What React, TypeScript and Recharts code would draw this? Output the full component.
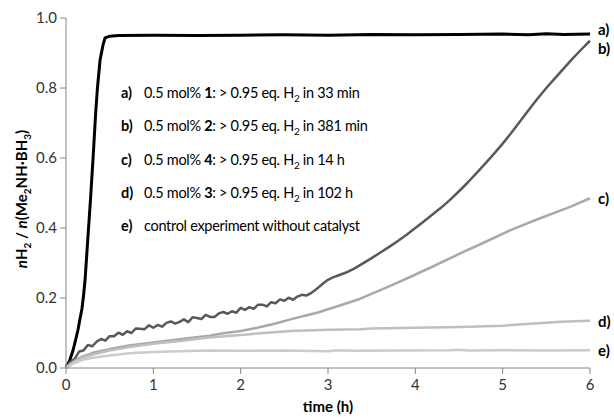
import React from "react";
import { LineChart, Line, XAxis, YAxis, LabelList } from "recharts";

const timeTicks = [0, 1, 2, 3, 4, 5, 6];
const ratioTicks = [0, 0.2, 0.4, 0.6, 0.8, 1.0];

// [time (h), nH2 / n(Me2NH·BH3)]
const curveA: [number, number][] = [
  [0, 0], [0.04, 0.02], [0.08, 0.05], [0.11, 0.08], [0.138, 0.11], [0.16, 0.14], [0.183, 0.17],
  [0.2, 0.205], [0.218, 0.25], [0.25, 0.37], [0.28, 0.48], [0.31, 0.6], [0.34, 0.73],
  [0.36, 0.8], [0.39, 0.88], [0.424, 0.923], [0.447, 0.943], [0.5, 0.948], [0.6, 0.95],
  [1.0, 0.951], [1.5, 0.95], [2.0, 0.951], [2.5, 0.952], [3.0, 0.951], [3.5, 0.953],
  [4.0, 0.952], [4.5, 0.953], [5.0, 0.954], [5.3, 0.952], [5.5, 0.955], [5.7, 0.953], [6.0, 0.954],
];

const curveB: [number, number][] = [
  [0, 0], [0.05, 0.018], [0.1, 0.026], [0.15, 0.047], [0.2, 0.05], [0.25, 0.066], [0.3, 0.062],
  [0.35, 0.075], [0.4, 0.083], [0.45, 0.078], [0.5, 0.091], [0.55, 0.091], [0.6, 0.101],
  [0.65, 0.095], [0.7, 0.105], [0.75, 0.1], [0.8, 0.113], [0.85, 0.112], [0.9, 0.111],
  [0.95, 0.122], [1.0, 0.115], [1.05, 0.123], [1.1, 0.118], [1.15, 0.129], [1.2, 0.133],
  [1.25, 0.127], [1.3, 0.132], [1.35, 0.139], [1.4, 0.131], [1.45, 0.145], [1.5, 0.143],
  [1.55, 0.14], [1.6, 0.152], [1.65, 0.146], [1.7, 0.146], [1.75, 0.156], [1.8, 0.16],
  [1.85, 0.155], [1.9, 0.162], [1.95, 0.158], [2.0, 0.172], [2.05, 0.166], [2.1, 0.174],
  [2.15, 0.169], [2.2, 0.181], [2.25, 0.181], [2.3, 0.176], [2.35, 0.188], [2.4, 0.185],
  [2.45, 0.196], [2.5, 0.192], [2.55, 0.201], [2.6, 0.195], [2.65, 0.204], [2.7, 0.209],
  [2.75, 0.207], [2.8, 0.213], [2.85, 0.222], [2.9, 0.232], [2.95, 0.243], [3.0, 0.252],
  [3.05, 0.258], [3.1, 0.263], [3.2, 0.272], [3.3, 0.284], [3.4, 0.299], [3.5, 0.314], [3.6, 0.33],
  [3.7, 0.346], [3.8, 0.363], [3.9, 0.381], [4.0, 0.4], [4.1, 0.419], [4.2, 0.439],
  [4.3, 0.459], [4.4, 0.481], [4.5, 0.505], [4.6, 0.53], [4.7, 0.557], [4.8, 0.584],
  [4.9, 0.612], [5.0, 0.641], [5.1, 0.672], [5.2, 0.705], [5.3, 0.738], [5.4, 0.77],
  [5.5, 0.8], [5.6, 0.828], [5.7, 0.856], [5.8, 0.884], [5.9, 0.91], [6.0, 0.935],
];

const curveC: [number, number][] = [
  [0, 0], [0.05, 0.012], [0.1, 0.021], [0.2, 0.034], [0.33, 0.045], [0.5, 0.054], [0.72, 0.064],
  [1.0, 0.073], [1.3, 0.082], [1.64, 0.092], [1.8, 0.099], [2.0, 0.106], [2.19, 0.115],
  [2.4, 0.127], [2.57, 0.139], [2.7, 0.147], [2.875, 0.158], [3.0, 0.168], [3.18, 0.182],
  [3.37, 0.198], [3.49, 0.211], [3.7, 0.233], [3.94, 0.26], [4.2, 0.29], [4.52, 0.328],
  [4.8, 0.36], [5.09, 0.394], [5.4, 0.425], [5.78, 0.461], [6.0, 0.485],
];

const curveD: [number, number][] = [
  [0, 0], [0.05, 0.01], [0.1, 0.018], [0.2, 0.03], [0.33, 0.04], [0.5, 0.05], [0.72, 0.06],
  [1.0, 0.069], [1.3, 0.077], [1.64, 0.087], [2.0, 0.094], [2.3, 0.101], [2.57, 0.106],
  [3.0, 0.109], [3.37, 0.111], [3.5, 0.113], [4.0, 0.115], [4.52, 0.117], [5.0, 0.121],
  [5.67, 0.132], [6.0, 0.135],
];

const curveE: [number, number][] = [
  [0, 0], [0.05, 0.008], [0.1, 0.015], [0.2, 0.024], [0.33, 0.03], [0.5, 0.036], [0.72, 0.042],
  [1.0, 0.046], [1.3, 0.048], [1.64, 0.05], [2.0, 0.049], [2.5, 0.05], [3.0, 0.048],
  [3.1, 0.051], [3.3, 0.049], [3.8, 0.05], [4.4, 0.051], [4.5, 0.052], [4.6, 0.05],
  [5.0, 0.051], [5.5, 0.05], [6.0, 0.051],
];

const endTags = ["a)", "b)", "c)", "d)", "e)"];
const endTagShift = [-5, 7, 0, 0, 0];
const lineColors = ["#000000", "#595959", "#a9a9a9", "#bfbfbf", "#cbcbcb"];
const lineWidths = [3, 2.5, 2.5, 2.5, 2.5];

const noteTags = ["a)", "b)", "c)", "d)", "e)"];
const noteCatalysts = ["1", "2", "4", "3"];
const noteTimes = ["33 min", "381 min", "14 h", "102 h"];
const noteControl = "control experiment without catalyst";

const FONT = "Lato, 'Open Sans', sans-serif";
const AXIS = "#868686";

const series = [curveA, curveB, curveC, curveD, curveE].map((c) => c.map(([t, v]) => ({ t, v })));

function endLabel(idx: number, last: number) {
  return (props: any) => {
    if (props.index !== last) return null;
    return (
      <text
        x={Number(props.x) + 8}
        y={Number(props.y) + endTagShift[idx]}
        dominantBaseline="central"
        fontFamily={FONT}
        fontWeight="bold"
        fontSize={15}
        fill="#000"
      >
        {endTags[idx]}
      </text>
    );
  };
}

export default function App() {
  return (
    <div style={{ position: "absolute", left: 0, top: 0, width: 614, height: 418, background: "#fff" }}>
      <LineChart width={614} height={418} margin={{ top: 18, right: 24, bottom: 20, left: 16 }}>
        <XAxis
          dataKey="t"
          type="number"
          domain={[0, 6]}
          ticks={timeTicks}
          allowDuplicatedCategory={false}
          height={30}
          stroke={AXIS}
          tickSize={6}
          tickMargin={5}
          tick={{ fontFamily: FONT, fontSize: 15, fill: "#333" }}
        />
        <YAxis
          type="number"
          domain={[0, 1]}
          ticks={ratioTicks}
          width={50}
          stroke={AXIS}
          tickSize={6}
          tickMargin={3}
          tickFormatter={(v: number) => v.toFixed(1)}
          tick={{ fontFamily: FONT, fontSize: 15, fill: "#333" }}
        />
        {series.map((d, i) => (
          <Line
            key={i}
            data={d}
            dataKey="v"
            type="linear"
            stroke={lineColors[i]}
            strokeWidth={lineWidths[i]}
            dot={false}
            isAnimationActive={false}
            strokeLinejoin="round"
          >
            <LabelList dataKey="v" content={endLabel(i, d.length - 1)} />
          </Line>
        ))}
      </LineChart>

      <div
        style={{
          position: "absolute",
          left: 22,
          top: 199,
          transform: "translate(-50%, -50%) rotate(-90deg)",
          whiteSpace: "nowrap",
          fontFamily: FONT,
          fontWeight: "bold",
          fontSize: 15,
          color: "#000",
        }}
      >
        <i>n</i>H<sub style={{ fontSize: 10 }}>2</sub> / <i>n</i>(Me<sub style={{ fontSize: 10 }}>2</sub>NH·BH
        <sub style={{ fontSize: 10 }}>3</sub>)
      </div>

      <div
        style={{
          position: "absolute",
          left: 328,
          top: 406,
          transform: "translate(-50%, -50%)",
          whiteSpace: "nowrap",
          fontFamily: FONT,
          fontWeight: "bold",
          fontSize: 15,
          color: "#000",
        }}
      >
        time (h)
      </div>

      {noteTags.map((tag, i) => (
        <div
          key={tag}
          style={{
            position: "absolute",
            left: 121,
            top: 83 + i * 33.3,
            whiteSpace: "nowrap",
            fontFamily: FONT,
            fontSize: 14.5,
            letterSpacing: -0.3,
            lineHeight: "20px",
            color: "#000",
          }}
        >
          <b style={{ display: "inline-block", width: 23, letterSpacing: 0 }}>{tag}</b>
          {i < 4 ? (
            <span>
              0.5 mol% <b>{noteCatalysts[i]}</b>: &gt; 0.95 eq. H<sub style={{ fontSize: 10, lineHeight: 0 }}>2</sub> in{" "}
              {noteTimes[i]}
            </span>
          ) : (
            <span>{noteControl}</span>
          )}
        </div>
      ))}
    </div>
  );
}
